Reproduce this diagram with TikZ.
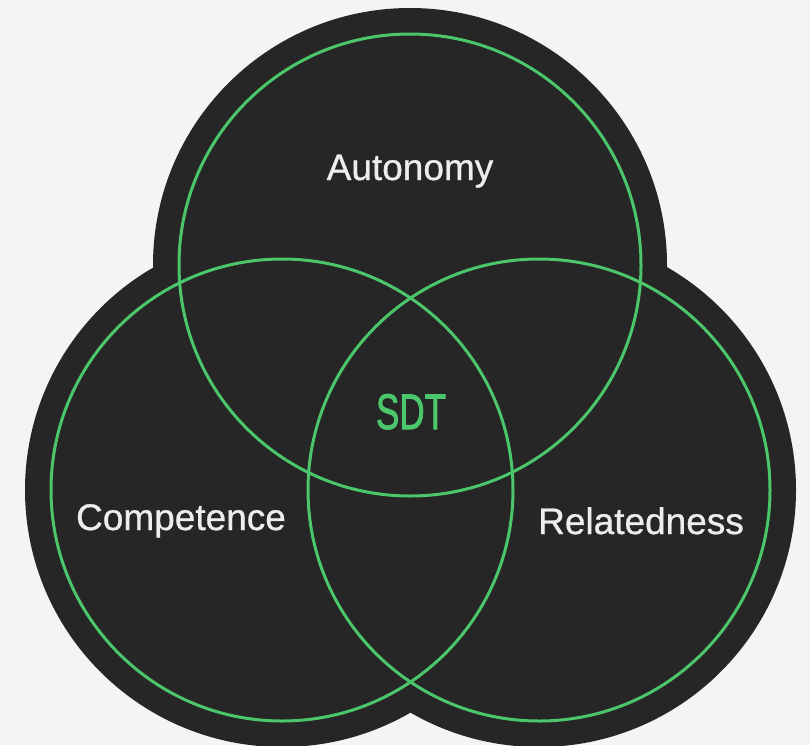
\documentclass[tikz,border=0pt]{standalone}
\usepackage{fontspec}
\setmainfont{Liberation Sans}
\newfontfamily\medfont{Liberation Sans}[FakeBold=0.8]
\newfontfamily\corefont{Liberation Sans}[FakeBold=2]
\definecolor{bg}{HTML}{F4F4F4}
\definecolor{blob}{HTML}{262626}
\definecolor{ring}{HTML}{4CC66A}
\definecolor{label}{HTML}{EDEDED}
\begin{document}
\begin{tikzpicture}[x=1pt,y=-1pt,
  ringline/.style={draw=ring,line width=3pt},
  setlabel/.style={text=label,font=\medfont\fontsize{37}{40}\selectfont,inner sep=0pt,anchor=base},
  corelabel/.style={text=ring,font=\corefont\fontsize{50}{52}\selectfont,inner sep=0pt,anchor=base}]
\fill[bg] (0,0) rectangle (810,745);
\useasboundingbox (0,0) rectangle (810,745);
\coordinate (ctop) at (410,265);
\coordinate (cleft) at (282,490);
\coordinate (cright) at (539,490);
% dark blob
\fill[blob] (ctop) circle[radius=257];
\fill[blob] (cleft) circle[radius=257];
\fill[blob] (cright) circle[radius=257];
% rings
\draw[ringline] (ctop) circle[radius=231];
\draw[ringline] (cleft) circle[radius=231];
\draw[ringline] (cright) circle[radius=231];
% labels
\node[setlabel] (aut) at (410,180) {Autonomy};
\node[setlabel] (comp) at (181,530) {Competence};
\node[setlabel] (rel) at (641,534) {Relatedness};
\node[corelabel] (sdt) at (411,429) {\scalebox{0.7}[1]{SDT}};
\end{tikzpicture}
\end{document}
